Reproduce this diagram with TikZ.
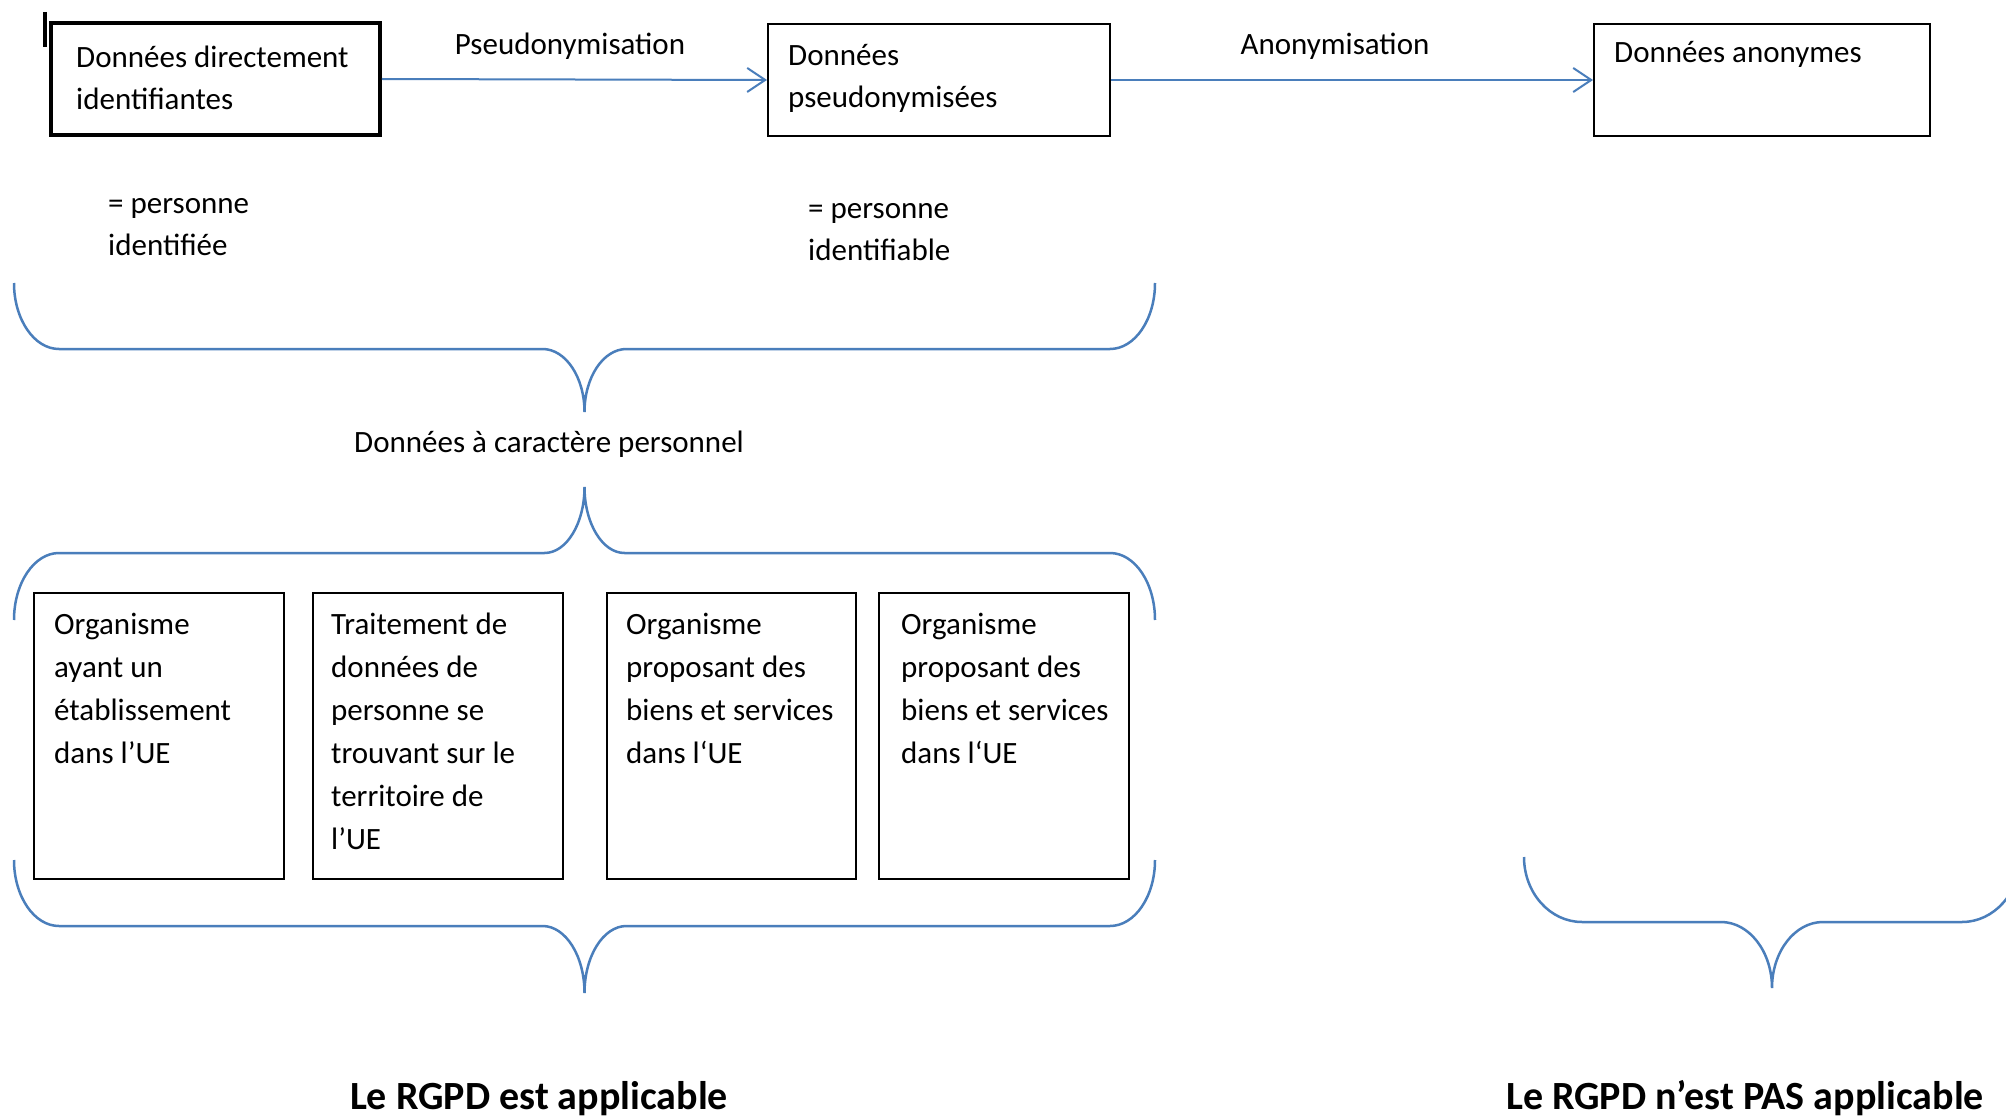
\documentclass[tikz,border=0pt]{standalone}
\usepackage{fontspec}
\setmainfont{Carlito}
\usetikzlibrary{arrows.meta}
\definecolor{bl}{HTML}{4A7EBB}
% Word-like curly brace: x0, x1, yend, yline, ytip, corner radius, tip radius
\newcommand{\wbrace}[7]{%
  \draw[brc] (#1,#3) .. controls (#1,{#3+0.552*(#4-#3)}) and ({#1+0.448*#6},#4) .. ({#1+#6},#4)
    -- ({(#1+#2)/2-#7},#4) .. controls ({(#1+#2)/2-0.448*#7},#4) and ({(#1+#2)/2},{#4+0.448*(#5-#4)}) .. ({(#1+#2)/2},#5)
    .. controls ({(#1+#2)/2},{#4+0.448*(#5-#4)}) and ({(#1+#2)/2+0.448*#7},#4) .. ({(#1+#2)/2+#7},#4)
    -- ({#2-#6},#4) .. controls ({#2-0.448*#6},#4) and (#2,{#3+0.552*(#4-#3)}) .. (#2,#3);}
\begin{document}
\begin{tikzpicture}[x=1pt,y=-1pt,
  box/.style={draw=black, line width=2pt, rectangle, inner sep=0pt},
  txt/.style={anchor=north west, inner sep=0pt, align=left, font=\fontsize{31}{42}\selectfont},
  ltxt/.style={txt, font=\fontsize{31}{43}\selectfont},
  lbl/.style={anchor=base, inner sep=0pt, font=\fontsize{31}{42}\selectfont},
  ttl/.style={anchor=base, inner sep=0pt, font=\fontsize{40}{48}\selectfont\bfseries},
  flow/.style={draw=bl, line width=2pt, -{Straight Barb[length=18pt,width=24pt]}},
  brc/.style={draw=bl, line width=2.5pt}]
\useasboundingbox[fill=white] (0,0) rectangle (2006,1118);

% cursor mark
\draw[line width=3.5pt] (45,12) -- (45,47);

% top row boxes
\node[box, line width=3.5pt, minimum width=329pt, minimum height=112pt] (b1) at (215.5,79) {};
\node[box, minimum width=342pt, minimum height=112pt] (b2) at (939,80) {};
\node[box, minimum width=336pt, minimum height=112pt] (b3) at (1762,80) {};

\node[txt] (t1) at (76,37.6) {\strut Données directement\\identifiantes};
\node[txt] (t2) at (788,35.6) {\strut Données\\pseudonymisées};
\node[txt] (t3) at (1614,32.6) {\strut Données anonymes};

\draw[flow] (b1.east) -- (b2.west);
\draw[flow] (b2.east) -- (b3.west);
\node[lbl] (l1) at (570,55) {Pseudonymisation};
\node[lbl] (l2) at (1335,55) {Anonymisation};

\node[txt] (p1) at (108,183.6) {\strut = personne\\identifiée};
\node[txt] (p2) at (808,188.6) {\strut = personne\\identifiable};

% braces
\wbrace{14}{1155}{283}{349}{412}{45}{42}
\node[lbl] (dcp) at (549,452) {Données à caractère personnel};
\wbrace{14}{1155}{620}{553}{487}{45}{40}

% lower boxes
\node[box, minimum width=250pt, minimum height=286pt] (c1) at (159,736) {};
\node[box, minimum width=250pt, minimum height=286pt] (c2) at (438,736) {};
\node[box, minimum width=249pt, minimum height=286pt] (c3) at (731.5,736) {};
\node[box, minimum width=250pt, minimum height=286pt] (c4) at (1004,736) {};

\node[ltxt] (ct1) at (54,603.9) {\strut Organisme\\ayant un\\établissement\\dans l’UE};
\node[ltxt] (ct2) at (331,603.9) {\strut Traitement de\\données de\\personne se\\trouvant sur le\\territoire de\\l’UE};
\node[ltxt] (ct3) at (626,603.9) {\strut Organisme\\proposant des\\biens et services\\dans l‘UE};
\node[ltxt] (ct4) at (901,603.9) {\strut Organisme\\proposant des\\biens et services\\dans l‘UE};

\wbrace{14}{1155}{860}{926}{993}{45}{42}
\wbrace{1524}{2020}{857}{922}{988}{58}{51}

\node[ttl] (r1) at (539,1109) {Le RGPD est applicable};
\node[ttl] (r2) at (1745,1109) {Le RGPD n’est PAS applicable};
\end{tikzpicture}
\end{document}
